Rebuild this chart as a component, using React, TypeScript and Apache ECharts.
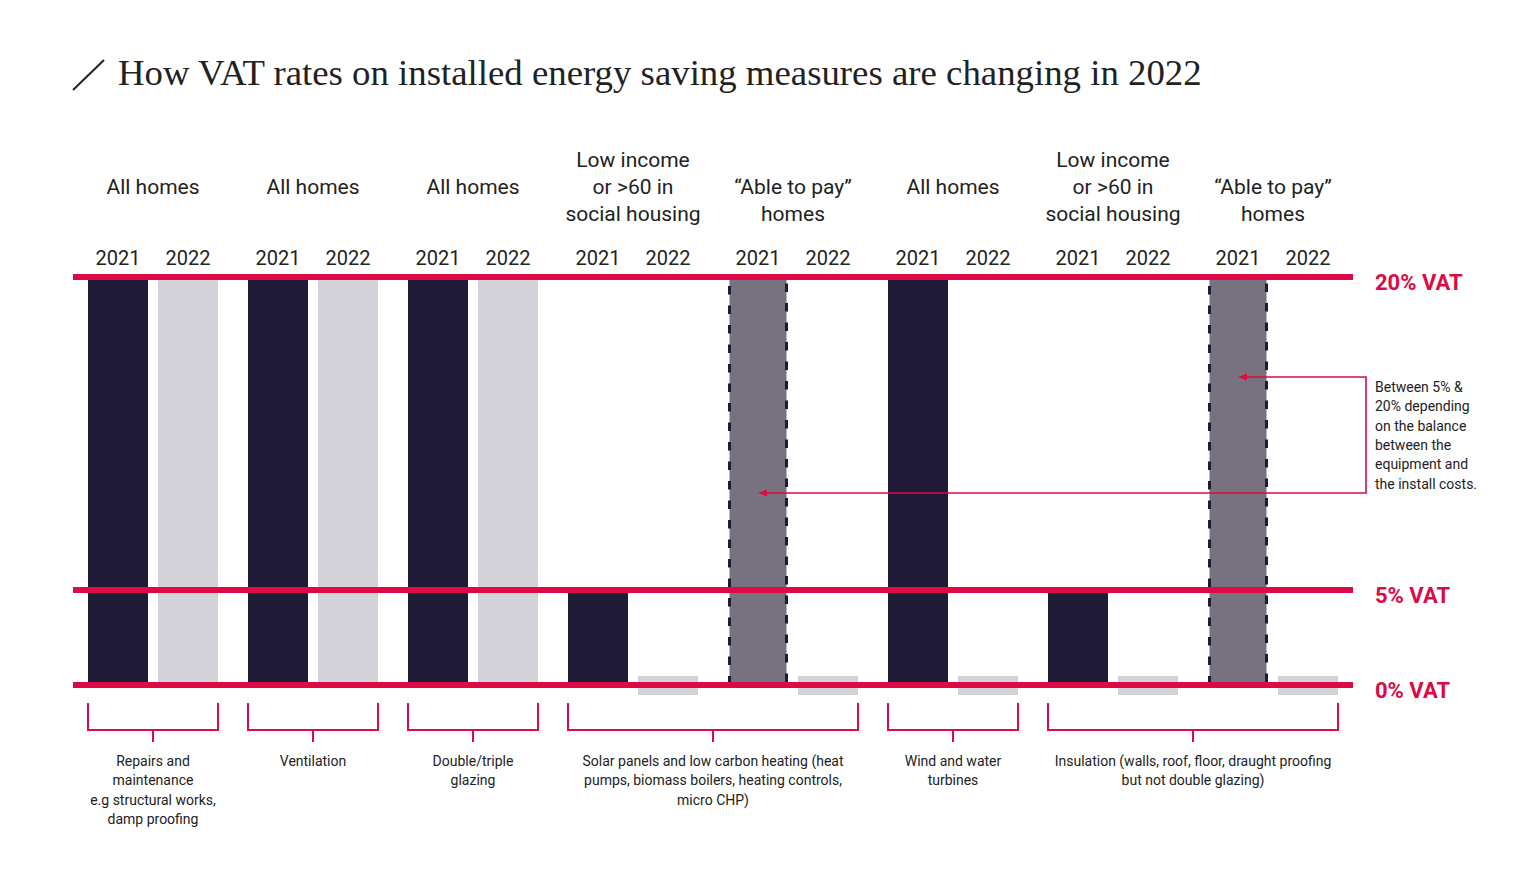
import React, { useEffect, useRef } from "react";
import * as echarts from "echarts";

// ---------- data ----------
const categories = [
  "All homes\n\u00a0",
  "All homes\n\u00a0",
  "All homes\n\u00a0",
  "Low income\nor >60 in\nsocial housing",
  "\u201cAble to pay\u201d\nhomes",
  "All homes\n\u00a0",
  "Low income\nor >60 in\nsocial housing",
  "\u201cAble to pay\u201d\nhomes",
];
const yearLabels = ["2021", "2022"];
const vat2021 = [20, 20, 20, 5, 20, 20, 5, 20];
const vat2022 = [20, 20, 20, 0, 0, 0, 0, 0];
// 1 = rate varies between 5% and 20% (dashed bar)
const variable2021 = [0, 0, 0, 0, 1, 0, 0, 1];
const vatLevels = [0, 5, 20];
const vatLevelLabels = ["0% VAT", "5% VAT", "20% VAT"];
const measures = [
  "Repairs and\nmaintenance\ne.g structural works,\ndamp proofing",
  "Ventilation",
  "Double/triple\nglazing",
  "Solar panels and low carbon heating (heat\npumps, biomass boilers, heating controls,\nmicro CHP)",
  "Wind and water\nturbines",
  "Insulation (walls, roof, floor, draught proofing\nbut not double glazing)",
];
const measureSpans = [
  [0, 0],
  [1, 1],
  [2, 2],
  [3, 4],
  [5, 5],
  [6, 7],
];
const annotationText =
  "Between 5% &\n20% depending\non the balance\nbetween the\nequipment and\nthe install costs.";
const title =
  "How VAT rates on installed energy saving measures are changing in 2022";

// ---------- styles ----------
const RED = "#dc0a45";
const NAVY = "#1f1a36";
const LIGHT = "#d3d2d8";
const MAUVE = "#78717f";
const TEXT = "#222222";
const SANS = "Roboto, 'Noto Sans', sans-serif";
const BAR_W = 60;
const BAR_GAP = 10;
const OFF = (BAR_W + BAR_GAP) / 2;

// piecewise scale: 0-5% gets 95 units, 5-20% gets 313 units
const toDisplay = (v: number) => (v <= 5 ? v * 19 : 95 + (v - 5) * (313 / 15));
const Y_MAX = toDisplay(20);

export default function App() {
  const ref = useRef<HTMLDivElement>(null);

  useEffect(() => {
    document.body.style.margin = "0";
    if (!ref.current) return;
    const chart = echarts.init(ref.current, null, { renderer: "svg" });

    const option: any = {
      animation: false,
      backgroundColor: "#ffffff",
      grid: { left: 73, right: 183, top: 277, bottom: 197 },
      xAxis: {
        type: "category",
        position: "top",
        data: categories,
        axisLine: { show: false },
        axisTick: { show: false },
        axisLabel: {
          interval: 0,
          margin: 50,
          fontFamily: SANS,
          fontSize: 21,
          lineHeight: 27,
          color: TEXT,
        },
      },
      yAxis: { type: "value", min: 0, max: Y_MAX, show: false },
      graphic: [
        {
          type: "line",
          shape: { x1: 73, y1: 90, x2: 104, y2: 60 },
          style: { stroke: TEXT, lineWidth: 2 },
        },
        {
          type: "text",
          x: 118,
          y: 72,
          style: {
            text: title,
            font: "36.8px 'Liberation Serif', serif",
            fill: TEXT,
            verticalAlign: "middle",
          },
        },
        {
          type: "polyline",
          shape: {
            points: [
              [1244, 377],
              [1366, 377],
              [1366, 493],
              [764, 493],
            ],
          },
          style: { stroke: RED, lineWidth: 1.6, fill: "none" },
          z: 20,
        },
        {
          type: "polygon",
          shape: { points: [[1238, 377], [1247, 373.5], [1247, 380.5]] },
          style: { fill: RED },
          z: 20,
        },
        {
          type: "polygon",
          shape: { points: [[758, 493], [767, 489.5], [767, 496.5]] },
          style: { fill: RED },
          z: 20,
        },
        {
          type: "text",
          x: 1375,
          y: 377,
          style: {
            text: annotationText,
            fontFamily: SANS,
            fontSize: 14,
            lineHeight: 19.4,
            fill: TEXT,
            verticalAlign: "top",
          },
        },
      ],
      series: [
        {
          name: "2021",
          type: "bar",
          barWidth: BAR_W,
          barGap: (BAR_GAP / BAR_W) * 100 + "%",
          z: 2,
          data: vat2021.map((v, i) =>
            variable2021[i]
              ? {
                  value: toDisplay(v),
                  itemStyle: {
                    color: MAUVE,
                    borderColor: NAVY,
                    borderWidth: 3,
                    borderType: [8.5, 11],
                  },
                }
              : { value: toDisplay(v), itemStyle: { color: NAVY } }
          ),
        },
        {
          name: "2022",
          type: "bar",
          barWidth: BAR_W,
          z: 2,
          itemStyle: { color: LIGHT },
          data: vat2022.map((v) => toDisplay(v)),
        },
        {
          name: "zero markers",
          type: "custom",
          z: 1,
          clip: false,
          data: vat2022
            .map((v, i) => [i, v])
            .filter((d) => d[1] === 0),
          renderItem: (params: any, api: any) => {
            const c = api.coord([api.value(0), 0]);
            return {
              type: "rect",
              shape: { x: c[0] + OFF - BAR_W / 2, y: c[1] - 9, width: BAR_W, height: 19 },
              style: { fill: LIGHT },
            };
          },
        },
        {
          name: "year labels",
          type: "custom",
          clip: false,
          data: categories.map((_, i) => [i, Y_MAX]),
          renderItem: (params: any, api: any) => {
            const c = api.coord([api.value(0), api.value(1)]);
            return {
              type: "group",
              children: yearLabels.map((t, k) => ({
                type: "text",
                x: c[0] + (k === 0 ? -OFF : OFF),
                y: c[1] - 19,
                style: {
                  text: t,
                  fontFamily: SANS,
                  fontSize: 20,
                  fill: TEXT,
                  align: "center",
                  verticalAlign: "middle",
                },
              })),
            };
          },
        },
        {
          name: "measures",
          type: "custom",
          clip: false,
          data: measureSpans,
          renderItem: (params: any, api: any) => {
            const a = api.coord([api.value(0), 0]);
            const b = api.coord([api.value(1), 0]);
            const left = a[0] - OFF - BAR_W / 2;
            const right = b[0] + OFF + BAR_W / 2;
            const y0 = a[1];
            const mid = (left + right) / 2;
            return {
              type: "group",
              children: [
                {
                  type: "polyline",
                  shape: {
                    points: [
                      [left, y0 + 18],
                      [left, y0 + 45],
                      [right, y0 + 45],
                      [right, y0 + 18],
                    ],
                  },
                  style: { stroke: RED, lineWidth: 2, fill: "none" },
                },
                {
                  type: "line",
                  shape: { x1: mid, y1: y0 + 45, x2: mid, y2: y0 + 57 },
                  style: { stroke: RED, lineWidth: 2 },
                },
                {
                  type: "text",
                  x: mid,
                  y: y0 + 66,
                  style: {
                    text: measures[params.dataIndex],
                    fontFamily: SANS,
                    fontSize: 14,
                    lineHeight: 19.5,
                    fill: TEXT,
                    align: "center",
                    verticalAlign: "top",
                  },
                },
              ],
            };
          },
        },
        {
          name: "VAT levels",
          type: "line",
          data: [],
          z: 10,
          markLine: {
            silent: true,
            symbol: ["none", "none"],
            lineStyle: { color: RED, width: 6, type: "solid" },
            label: {
              position: "end",
              distance: 22,
              rich: {
                v: {
                  color: RED,
                  fontFamily: SANS,
                  fontWeight: "bold",
                  fontSize: 22,
                  padding: [10, 0, 0, 0],
                },
              },
            },
            data: vatLevels.map((v, i) => ({
              yAxis: toDisplay(v),
              label: { formatter: "{v|" + vatLevelLabels[i] + "}" },
            })),
          },
        },
      ],
    };

    chart.setOption(option);
    return () => chart.dispose();
  }, []);

  return <div ref={ref} style={{ width: 1536, height: 882 }} />;
}
